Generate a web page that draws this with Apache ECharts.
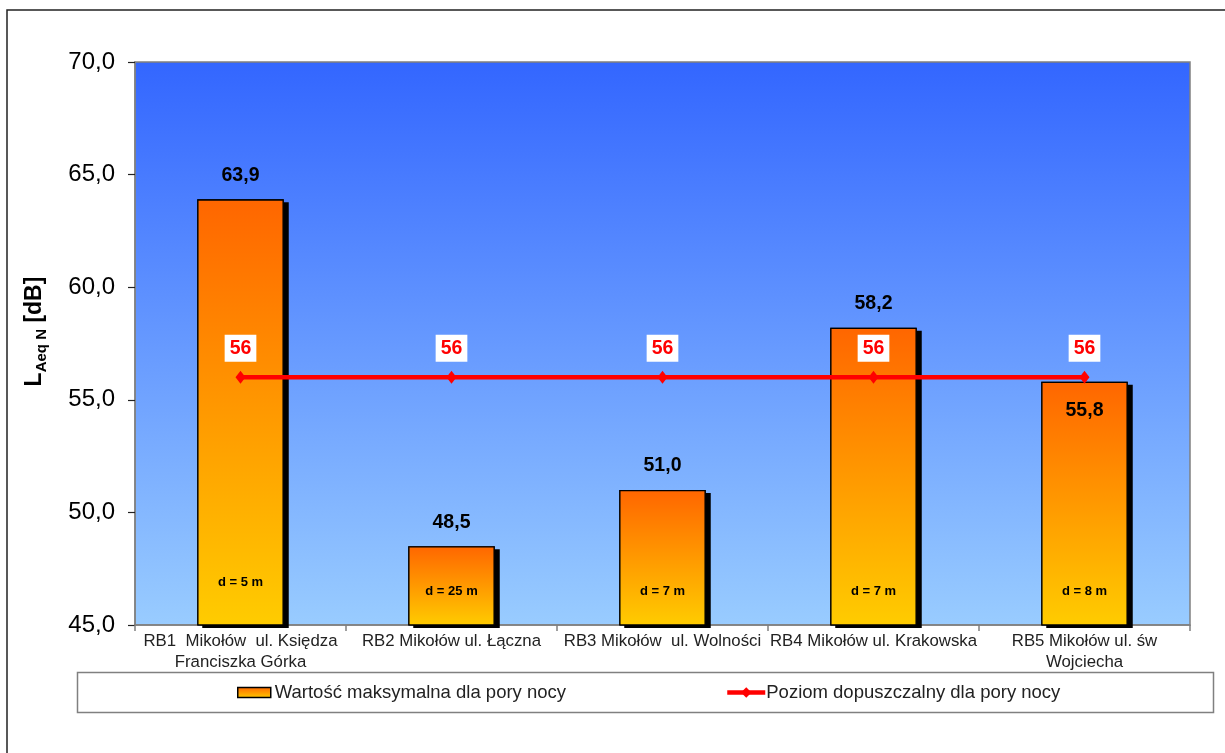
<!DOCTYPE html>
<html><head><meta charset="utf-8">
<script src="https://cdn.jsdelivr.net/npm/echarts@6/dist/echarts.min.js"></script>
<style>html,body{margin:0;padding:0;background:#fff}#c{width:1225px;height:753px}</style>
</head><body><div id="c"></div>
<script>
const categories = ['RB1  Mikołów  ul. Księdza\nFranciszka Górka', 'RB2 Mikołów ul. Łączna', 'RB3 Mikołów  ul. Wolności', 'RB4 Mikołów ul. Krakowska', 'RB5 Mikołów ul. św\nWojciecha'];
const maxNight = [63.9, 48.5, 51.0, 58.2, 55.8];
const limitNight = [56, 56, 56, 56, 56];
const distances = ['d = 5 m', 'd = 25 m', 'd = 7 m', 'd = 7 m', 'd = 8 m'];
const yMin = 45, yMax = 70, yStep = 5;
const seriesNames = ['Wartość maksymalna dla pory nocy', 'Poziom dopuszczalny dla pory nocy'];

const FONT = "'Liberation Sans', Arial, sans-serif";
const barGrad = {type:'linear', x:0, y:0, x2:0, y2:1, colorStops:[{offset:0,color:'#FF6600'},{offset:1,color:'#FFCC00'}]};
const fmt = v => v.toFixed(1).replace('.', ',');
const chart = echarts.init(document.getElementById('c'));
chart.setOption({
  animation: false,
  textStyle: {fontFamily: FONT},
  graphic: [
    {type:'rect', shape:{x:7, y:10, width:1240, height:760}, style:{fill:'none', stroke:'#222', lineWidth:1.5}, z:-10, silent:true},
    {type:'rect', shape:{x:77.5, y:672.5, width:1136, height:40}, style:{fill:'#fff', stroke:'#808080', lineWidth:1.5}, z:-5, silent:true}
  ],
  grid: {left:135, top:62, right:35, bottom:128, show:true, borderColor:'#808080', borderWidth:1.5,
    backgroundColor: {type:'linear', x:0, y:0, x2:0, y2:1, colorStops:[{offset:0,color:'#3366FF'},{offset:1,color:'#99CCFF'}]}},
  legend: [
    {data:[{name:seriesNames[0], icon:'rect'}], left:237, top:683, padding:0, itemWidth:33, itemHeight:10, itemGap:0,
     textStyle:{fontSize:18.5, color:'#222', fontFamily:FONT, padding:[0,0,0,-1]},
     itemStyle:{shadowBlur:0, shadowOffsetX:0, shadowOffsetY:0, shadowColor:'transparent', borderColor:'#000', borderWidth:1.5}},
    {data:[seriesNames[1]], left:725, top:683, padding:0, itemWidth:38, itemHeight:13,
     lineStyle:{width:4.5, color:'#FF0000'},
     textStyle:{fontSize:18.5, color:'#222', fontFamily:FONT, padding:[0,0,0,-4]}}
  ],
  xAxis: {type:'category', data:categories,
    axisLine:{lineStyle:{color:'#808080', width:1.5}},
    axisTick:{show:true, length:6, lineStyle:{color:'#808080', width:1.5}},
    axisLabel:{interval:0, fontSize:16.8, color:'#222', lineHeight:21, margin:6, fontFamily:FONT}},
  yAxis: {type:'value', min:yMin, max:yMax, interval:yStep,
    name:'{a|L}{b|Aeq N}{a| [dB]}', nameLocation:'middle', nameRotate:90, nameGap:86,
    nameTextStyle:{padding:[0,0,0,24], rich:{a:{fontSize:23, fontWeight:'bold', color:'#000', lineHeight:28, fontFamily:FONT},
                          b:{fontSize:15, fontWeight:'bold', color:'#000', lineHeight:15, verticalAlign:'bottom', fontFamily:FONT}}},
    splitLine:{show:false},
    axisLine:{show:true, lineStyle:{color:'#808080', width:1.5}},
    axisTick:{show:true, length:7, lineStyle:{color:'#222', width:1.2}},
    axisLabel:{fontSize:24, color:'#000', margin:20, fontFamily:FONT, formatter: fmt}},
  series: [
    {name:'shadow', type:'bar', barWidth:'41%', barGap:'-100%', z:1, silent:true,
     data: maxNight,
     itemStyle:{color:'#000', shadowColor:'#000', shadowBlur:0, shadowOffsetX:5, shadowOffsetY:3}},
    {name:seriesNames[0], type:'bar', barWidth:'41%', barGap:'-100%', z:2,
     data: maxNight.map((v,i) => i === 4 ? {value:v, label:{position:'insideTop', distance:19}} : v),
     itemStyle:{color:barGrad, borderColor:'#000', borderWidth:1.3},
     label:{show:true, position:'top', distance:14, fontSize:19.5, fontWeight:'bold', color:'#000', fontFamily:FONT,
       formatter: p => fmt(p.value)}},
    {name:'dist', type:'bar', barWidth:'41%', barGap:'-100%', z:3, silent:true,
     data: maxNight.map((v,i) => i === 0 ? {value:v, label:{distance:36.5}} : v),
     itemStyle:{color:'rgba(0,0,0,0)'},
     label:{show:true, position:'insideBottom', distance:27.5, fontSize:13, fontWeight:'bold', color:'#000', fontFamily:FONT,
       formatter: p => distances[p.dataIndex]}},
    {name:seriesNames[1], type:'line', data:limitNight, z:5,
     symbol:'diamond', symbolSize:[10,13],
     lineStyle:{color:'#FF0000', width:4.5}, itemStyle:{color:'#FF0000'},
     label:{show:true, position:'top', distance:9, fontSize:19.5, fontWeight:'bold', color:'#FF0000', backgroundColor:'#fff', padding:[4,5,3,5], fontFamily:FONT}}
  ]
});
</script></body></html>
